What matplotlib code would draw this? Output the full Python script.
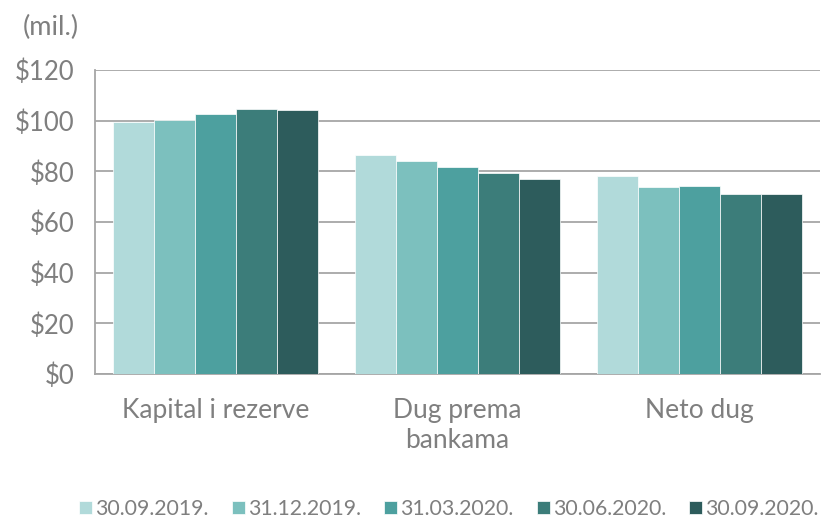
import matplotlib
matplotlib.use("Agg")
import matplotlib.pyplot as plt
import numpy as np

# data
categories = ["Kapital i rezerve", "Dug prema\nbankama", "Neto dug"]
periods = ["30.09.2019.", "31.12.2019.", "31.03.2020.", "30.06.2020.", "30.09.2020."]
kapital = [99.4, 100.3, 102.6, 104.6, 104.3]
dug_banke = [86.5, 84.1, 81.9, 79.4, 77.0]
neto_dug = [78.3, 74.0, 74.4, 71.1, 71.2]
yticks = [0, 20, 40, 60, 80, 100, 120]

colors = ["#B1DADA", "#7CC0BE", "#4DA09F", "#3C7D7A", "#2D5C5C"]
txt = "#7F7F7F"

plt.rcParams['font.family'] = ['Lato', 'DejaVu Sans']

values = np.array([kapital, dug_banke, neto_dug])   # rows = categories
fig = plt.figure(figsize=(8.21, 5.19), dpi=100)
ax = fig.add_axes([95/821, 145/519, 725/821, 304/519])

x = np.arange(len(categories))
width = 0.847 / len(periods)
for i, p in enumerate(periods):
    ax.bar(x - 0.847/2 + width*(i + 0.5), values[:, i], width,
           color=colors[i], edgecolor="white", linewidth=0.5,
           label=p, zorder=3)

ax.set_xlim(-0.5, 2.5)
ax.set_ylim(0, 120)
ax.set_yticks(yticks)
ax.set_yticklabels(["$" + str(v) for v in yticks])
ax.set_xticks(x)
ax.set_xticklabels(categories, linespacing=1.25)
ax.grid(axis="y", color="#A6A6A6", linewidth=1.3, zorder=0)
ax.tick_params(axis="y", length=0, pad=15, labelsize=18.5, labelcolor=txt)
ax.tick_params(axis="x", length=0, pad=17, labelsize=19, labelcolor=txt)
for s in ["top", "right"]:
    ax.spines[s].set_visible(False)
for s in ["left", "bottom"]:
    ax.spines[s].set_color("#A6A6A6")
    ax.spines[s].set_linewidth(1.3)

fig.text(51/821, 1 - 27/519, "(mil.)", ha="center", va="center",
         fontsize=19.5, color=txt)

fig.legend(loc="center", bbox_to_anchor=(449/821, 1 - 509/519), ncol=5,
           frameon=False, fontsize=15.3, labelcolor=txt,
           handlelength=0.6, handleheight=0.6, handletextpad=0.15,
           columnspacing=1.1)

fig.savefig("out.png", dpi=100)
